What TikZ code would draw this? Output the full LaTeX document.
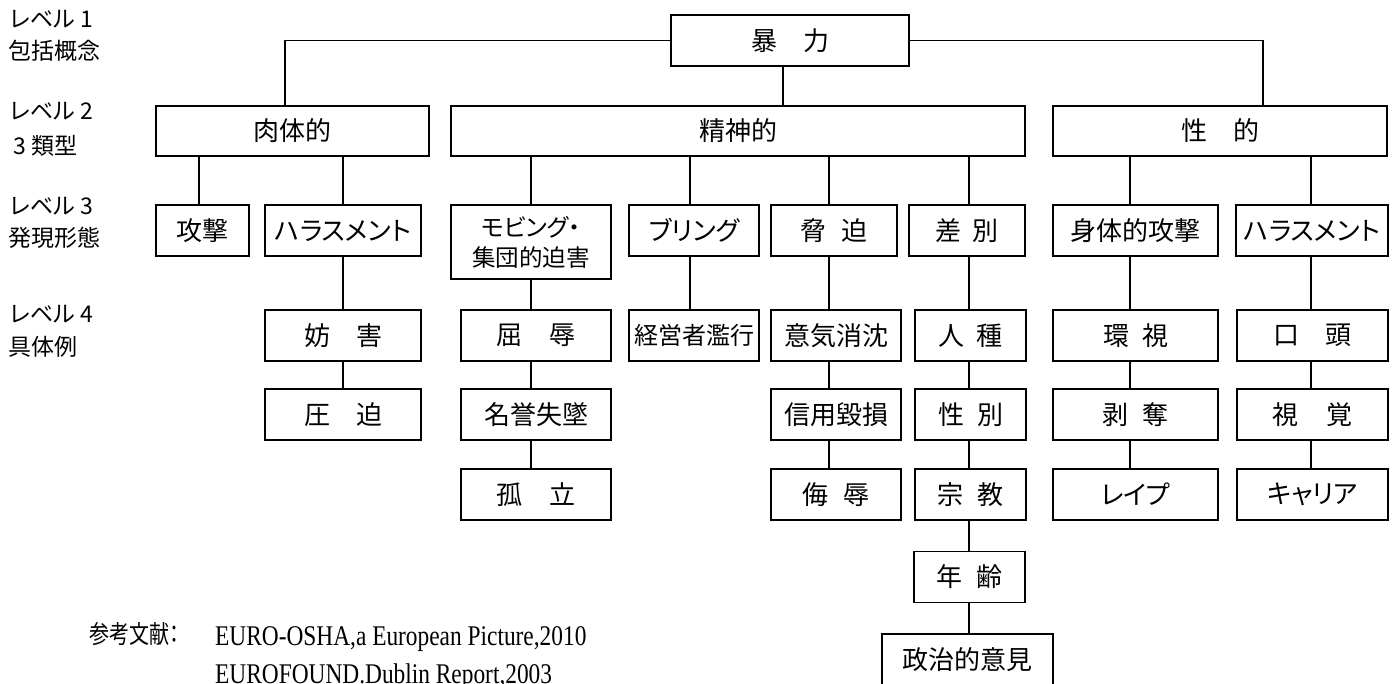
\documentclass[tikz,border=0pt]{standalone}
\usepackage{fontspec}
\setmainfont{Noto Sans CJK JP}
\newfontfamily\jpp[RawFeature=+palt]{Noto Sans CJK JP}
\newfontfamily\refjp[FakeStretch=0.8,RawFeature=+palt]{Noto Sans CJK JP}
\newfontfamily\reflat[FakeStretch=0.82]{Liberation Serif}
\begin{document}
\begin{tikzpicture}[x=1pt,y=-1pt,
  bx/.style={draw, line width=1.8pt, inner sep=0pt, minimum height=51pt, font=\fontsize{26}{30}\selectfont},
  ln/.style={line width=1.8pt},
  lbl/.style={anchor=west, inner sep=0pt, font=\fontsize{23}{26}\selectfont},
  reftext/.style={anchor=base west, inner sep=0pt}]
\useasboundingbox (0,0) rectangle (1395,684);
% left level labels
\node[lbl] (l1a) at (10,19) {\jpp レベル 1};
\node[lbl] (l1b) at (8,51) {包括概念};
\node[lbl] (l2a) at (10,111) {\jpp レベル 2};
\node[lbl] (l2b) at (13,146) {3 類型};
\node[lbl] (l3a) at (10,206) {\jpp レベル 3};
\node[lbl] (l3b) at (8,238) {発現形態};
\node[lbl] (l4a) at (10,314) {\jpp レベル 4};
\node[lbl] (l4b) at (8,347) {具体例};
% column coordinates
\coordinate (cL) at (285,0);
\coordinate (cR) at (1263,0);
\coordinate (cT) at (783,0);
\coordinate (cP1) at (199,0);
\coordinate (cP2) at (343,0);
\coordinate (cM1) at (531,0);
\coordinate (cM2) at (690,0);
\coordinate (cM3) at (829,0);
\coordinate (cM4) at (969,0);
\coordinate (cS1) at (1130,0);
\coordinate (cS2) at (1311,0);
% level 1
\node[bx, minimum width=238pt] (v) at (790,40.5) {暴\hspace{1em}力};
% level 2
\node[bx, minimum width=273pt, minimum height=50pt] (p) at (292.5,131) {肉体的};
\node[bx, minimum width=574pt, minimum height=50pt] (m) at (738,131) {精神的};
\node[bx, minimum width=334pt, minimum height=50pt] (s) at (1220,131) {性\hspace{1em}的};
% level 3
\node[bx, minimum width=93pt] (p1) at (202.5,230.5) {攻撃};
\node[bx, minimum width=156pt] (p2) at (343,230.5) {\jpp ハラスメント};
\node[bx, minimum width=160pt, minimum height=74pt, align=center] (m1) at (531,242)
  {\fontsize{24}{35}\selectfont\jpp モビング・\\\fontsize{23.5}{35}\selectfont 集団的迫害};
\node[bx, minimum width=130pt] (m2) at (694,230.5) {\jpp ブリング};
\node[bx, minimum width=126pt] (m3) at (834,230.5) {脅\hspace{0.55em}迫};
\node[bx, minimum width=116pt] (m4) at (967,230.5) {差\hspace{0.45em}別};
\node[bx, minimum width=165pt] (s1) at (1135.5,230.5) {身体的攻撃};
\node[bx, minimum width=152pt] (s2) at (1312,230.5) {\jpp ハラスメント};
% level 4
\node[bx, minimum width=156pt] (p2a) at (343,335.5) {妨\hspace{1em}害};
\node[bx, minimum width=150pt] (m1a) at (536,335.5) {屈\hspace{1.05em}辱};
\node[bx, minimum width=130pt] (m2a) at (694,335.5) {\fontsize{24}{30}\selectfont 経営者濫行};
\node[bx, minimum width=130pt] (m3a) at (836,335.5) {意気消沈};
\node[bx, minimum width=111pt] (m4a) at (970.5,335.5) {人\hspace{0.45em}種};
\node[bx, minimum width=165pt] (s1a) at (1135.5,335.5) {環\hspace{0.5em}視};
\node[bx, minimum width=151pt] (s2a) at (1312.5,335.5) {口\hspace{1em}頭};
% level 5
\node[bx, minimum width=156pt] (p2b) at (343,414.5) {圧\hspace{1em}迫};
\node[bx, minimum width=150pt] (m1b) at (536,414.5) {名誉失墜};
\node[bx, minimum width=130pt] (m3b) at (836,414.5) {信用毀損};
\node[bx, minimum width=111pt] (m4b) at (970.5,414.5) {性\hspace{0.5em}別};
\node[bx, minimum width=165pt] (s1b) at (1135.5,414.5) {剥\hspace{0.55em}奪};
\node[bx, minimum width=151pt] (s2b) at (1312.5,414.5) {視\hspace{1.1em}覚};
% level 6
\node[bx, minimum width=150pt] (m1c) at (536,494.5) {孤\hspace{1.05em}立};
\node[bx, minimum width=130pt] (m3c) at (836,494.5) {侮\hspace{0.6em}辱};
\node[bx, minimum width=111pt] (m4c) at (970.5,494.5) {宗\hspace{0.55em}教};
\node[bx, minimum width=165pt] (s1c) at (1135.5,494.5) {\jpp レイプ};
\node[bx, minimum width=151pt] (s2c) at (1312.5,494.5) {\jpp キャリア};
% level 7, 8
\node[bx, minimum width=111pt] (m4d) at (969.5,577) {年\hspace{0.55em}齢};
\node[bx, minimum width=171pt] (m4e) at (967.5,659.5) {政治的意見};
% connectors from the top
\draw[ln] (v.west) -| (p.north -| cL);
\draw[ln] (v.east) -| (s.north -| cR);
\draw[ln] (v.south -| cT) -- (m.north -| cT);
% physical
\draw[ln] (p.south -| cP1) -- (p1.north -| cP1);
\draw[ln] (p.south -| cP2) -- (p2.north -| cP2);
\draw[ln] (p2.south -| cP2) -- (p2a.north -| cP2);
\draw[ln] (p2a.south -| cP2) -- (p2b.north -| cP2);
% mental
\draw[ln] (m.south -| cM1) -- (m1.north -| cM1);
\draw[ln] (m1.south -| cM1) -- (m1a.north -| cM1);
\draw[ln] (m1a.south -| cM1) -- (m1b.north -| cM1);
\draw[ln] (m1b.south -| cM1) -- (m1c.north -| cM1);
\draw[ln] (m.south -| cM2) -- (m2.north -| cM2);
\draw[ln] (m2.south -| cM2) -- (m2a.north -| cM2);
\draw[ln] (m.south -| cM3) -- (m3.north -| cM3);
\draw[ln] (m3.south -| cM3) -- (m3a.north -| cM3);
\draw[ln] (m3a.south -| cM3) -- (m3b.north -| cM3);
\draw[ln] (m3b.south -| cM3) -- (m3c.north -| cM3);
\draw[ln] (m.south -| cM4) -- (m4.north -| cM4);
\draw[ln] (m4.south -| cM4) -- (m4a.north -| cM4);
\draw[ln] (m4a.south -| cM4) -- (m4b.north -| cM4);
\draw[ln] (m4b.south -| cM4) -- (m4c.north -| cM4);
\draw[ln] (m4c.south -| cM4) -- (m4d.north -| cM4);
\draw[ln] (m4d.south -| cM4) -- (m4e.north -| cM4);
% sexual
\draw[ln] (s.south -| cS1) -- (s1.north -| cS1);
\draw[ln] (s1.south -| cS1) -- (s1a.north -| cS1);
\draw[ln] (s1a.south -| cS1) -- (s1b.north -| cS1);
\draw[ln] (s1b.south -| cS1) -- (s1c.north -| cS1);
\draw[ln] (s.south -| cS2) -- (s2.north -| cS2);
\draw[ln] (s2.south -| cS2) -- (s2a.north -| cS2);
\draw[ln] (s2a.south -| cS2) -- (s2b.north -| cS2);
\draw[ln] (s2b.south -| cS2) -- (s2c.north -| cS2);
% references
\node[reftext, font=\refjp\fontsize{25}{30}\selectfont] (refh) at (89,643) {参考文献：};
\node[reftext, font=\reflat\fontsize{28.5}{30}\selectfont] (ref1) at (215,645) {EURO-OSHA,a European Picture,2010};
\node[reftext, font=\reflat\fontsize{28.5}{30}\selectfont] (ref2) at (215,683) {EUROFOUND.Dublin Report,2003};
\end{tikzpicture}
\end{document}
